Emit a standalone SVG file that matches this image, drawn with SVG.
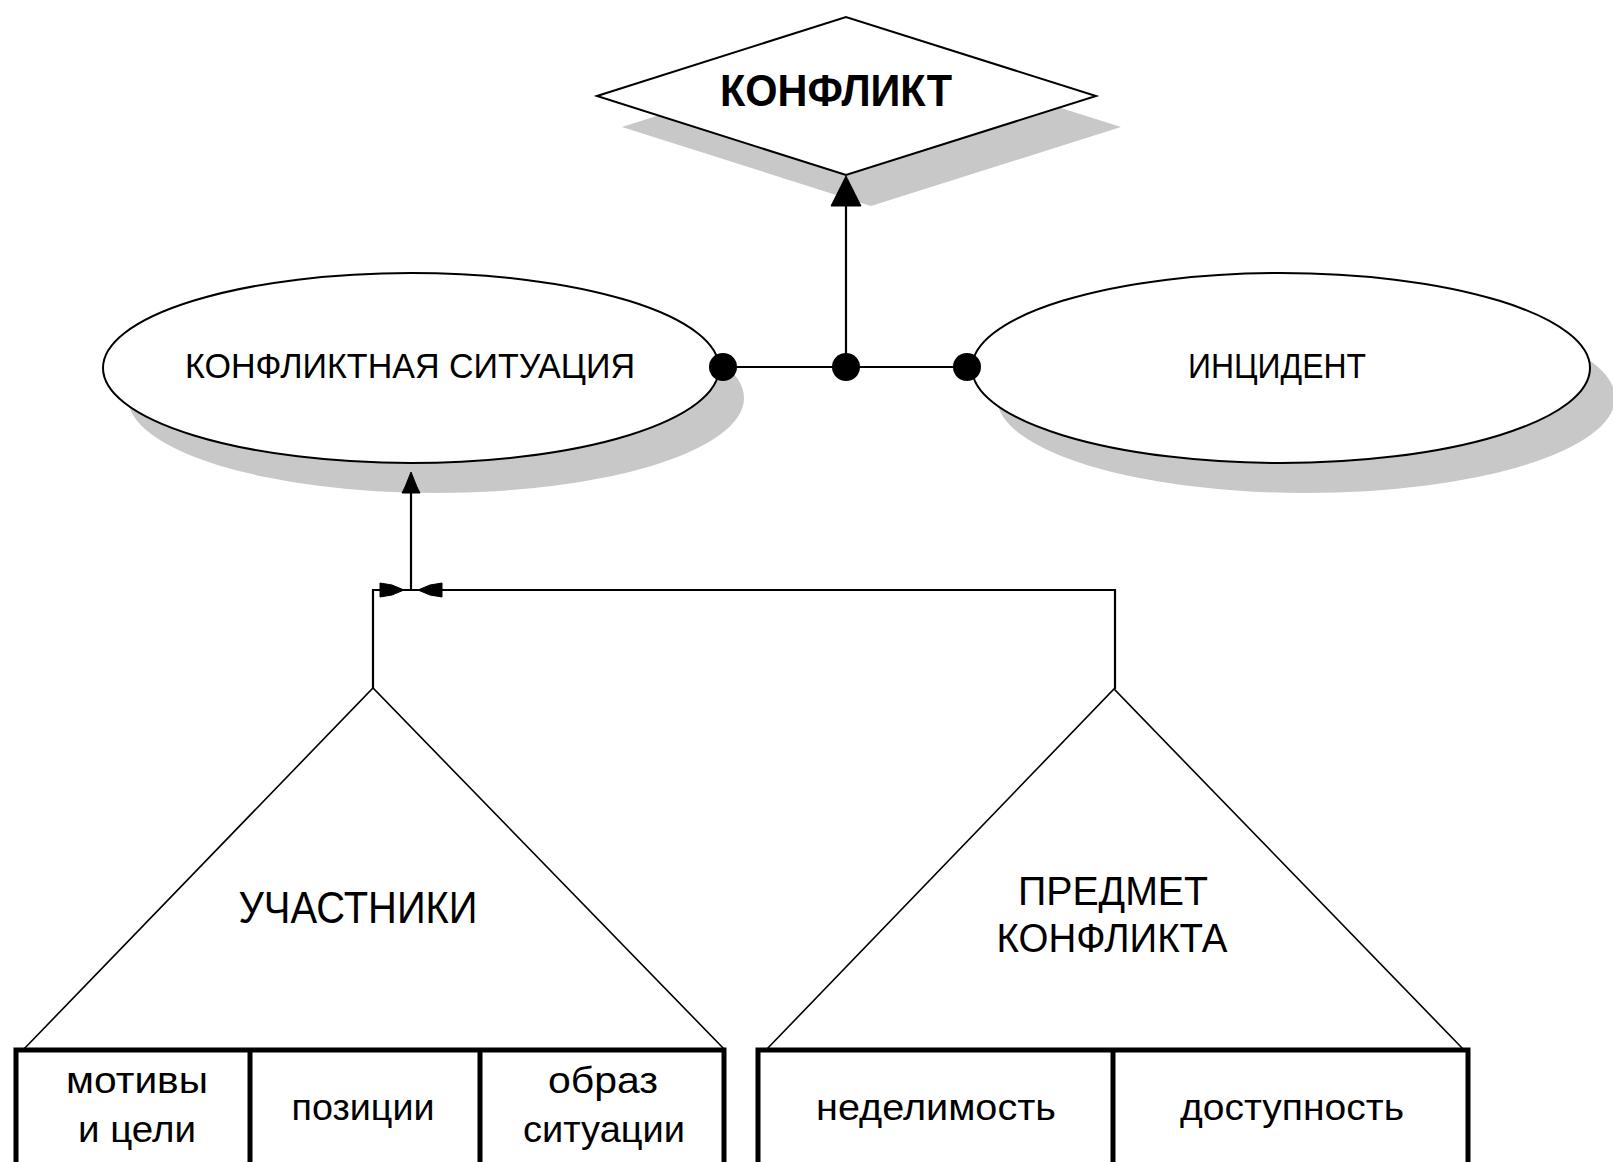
<svg xmlns="http://www.w3.org/2000/svg" width="1613" height="1162" viewBox="0 0 1613 1162">
<style>
text{font-family:"Liberation Sans",Arial,sans-serif;fill:#000;text-anchor:middle}
.shadow{fill:#c8c8c8;stroke:none}
.shape{fill:#fff;stroke:#000;stroke-width:2}
.tri{fill:none;stroke:#000;stroke-width:1.6}
.box{fill:#fff;stroke:#000;stroke-width:5}
.conn{fill:none;stroke:#000;stroke-width:2.2}
.dot{fill:#000}
.head{fill:#000;stroke:#000;stroke-width:1}
</style>
<rect width="1613" height="1162" fill="#fff"/>

<g id="konflikt">
<polygon class="shadow" points="622,127 871,48 1121,127 871,206"/>
<polygon class="shape" points="597,96 846,17 1096,96 846,175"/>
<text x="836" y="106" font-size="44" font-weight="bold" textLength="232" lengthAdjust="spacingAndGlyphs">КОНФЛИКТ</text>
</g>

<g id="situation">
<ellipse class="shadow" cx="436" cy="398" rx="308" ry="95"/>
<ellipse class="shape" cx="411" cy="368" rx="308" ry="95"/>
<text x="410" y="378" font-size="35" textLength="450" lengthAdjust="spacingAndGlyphs">КОНФЛИКТНАЯ СИТУАЦИЯ</text>
</g>

<g id="incident">
<ellipse class="shadow" cx="1306" cy="398" rx="309" ry="95"/>
<ellipse class="shape" cx="1281" cy="368" rx="309" ry="95"/>
<text x="1277" y="378" font-size="35" textLength="178" lengthAdjust="spacingAndGlyphs">ИНЦИДЕНТ</text>
</g>

<g id="participants">
<polyline class="tri" points="23,1050 373,688 725,1050"/>
<text x="358" y="923" font-size="44" textLength="239" lengthAdjust="spacingAndGlyphs">УЧАСТНИКИ</text>
<rect class="box" x="16" y="1050" width="708" height="130"/>
<line class="box" x1="250" y1="1050" x2="250" y2="1162"/>
<line class="box" x1="480" y1="1050" x2="480" y2="1162"/>
<text x="137" y="1093" font-size="36" textLength="142" lengthAdjust="spacingAndGlyphs">мотивы</text>
<text x="137" y="1142" font-size="36" textLength="118" lengthAdjust="spacingAndGlyphs">и цели</text>
<text x="363" y="1120" font-size="36" textLength="143" lengthAdjust="spacingAndGlyphs">позиции</text>
<text x="603" y="1093" font-size="36" textLength="110" lengthAdjust="spacingAndGlyphs">образ</text>
<text x="604" y="1142" font-size="36" textLength="162" lengthAdjust="spacingAndGlyphs">ситуации</text>
</g>

<g id="subject">
<polyline class="tri" points="766,1050 1114,689 1464,1050"/>
<text x="1113" y="905" font-size="40" textLength="190" lengthAdjust="spacingAndGlyphs">ПРЕДМЕТ</text>
<text x="1112" y="952" font-size="40" textLength="231" lengthAdjust="spacingAndGlyphs">КОНФЛИКТА</text>
<rect class="box" x="758" y="1050" width="710" height="130"/>
<line class="box" x1="1113" y1="1050" x2="1113" y2="1162"/>
<text x="936" y="1120" font-size="36" textLength="240" lengthAdjust="spacingAndGlyphs">неделимость</text>
<text x="1292" y="1120" font-size="36" textLength="224" lengthAdjust="spacingAndGlyphs">доступность</text>
</g>

<g id="connectors">
<line class="conn" x1="723" y1="367" x2="967" y2="367"/>
<line class="conn" x1="846" y1="367" x2="846" y2="204"/>
<polygon class="head" points="846,176 831,206 861,206"/>
<circle class="dot" cx="723" cy="367" r="14"/>
<circle class="dot" cx="846" cy="367" r="14"/>
<circle class="dot" cx="967" cy="367" r="14"/>
<polyline class="conn" points="373,688 373,590 1115,590 1115,689"/>
<line class="conn" x1="411" y1="590" x2="411" y2="490"/>
<polygon class="head" points="411,472 405,487 402,493 420,493 417,487"/>
<polygon class="head" points="380,583 392,585 404,590 392,595 380,597"/>
<polygon class="head" points="442,583 430,585 418,590 430,595 442,597"/>
</g>
</svg>
